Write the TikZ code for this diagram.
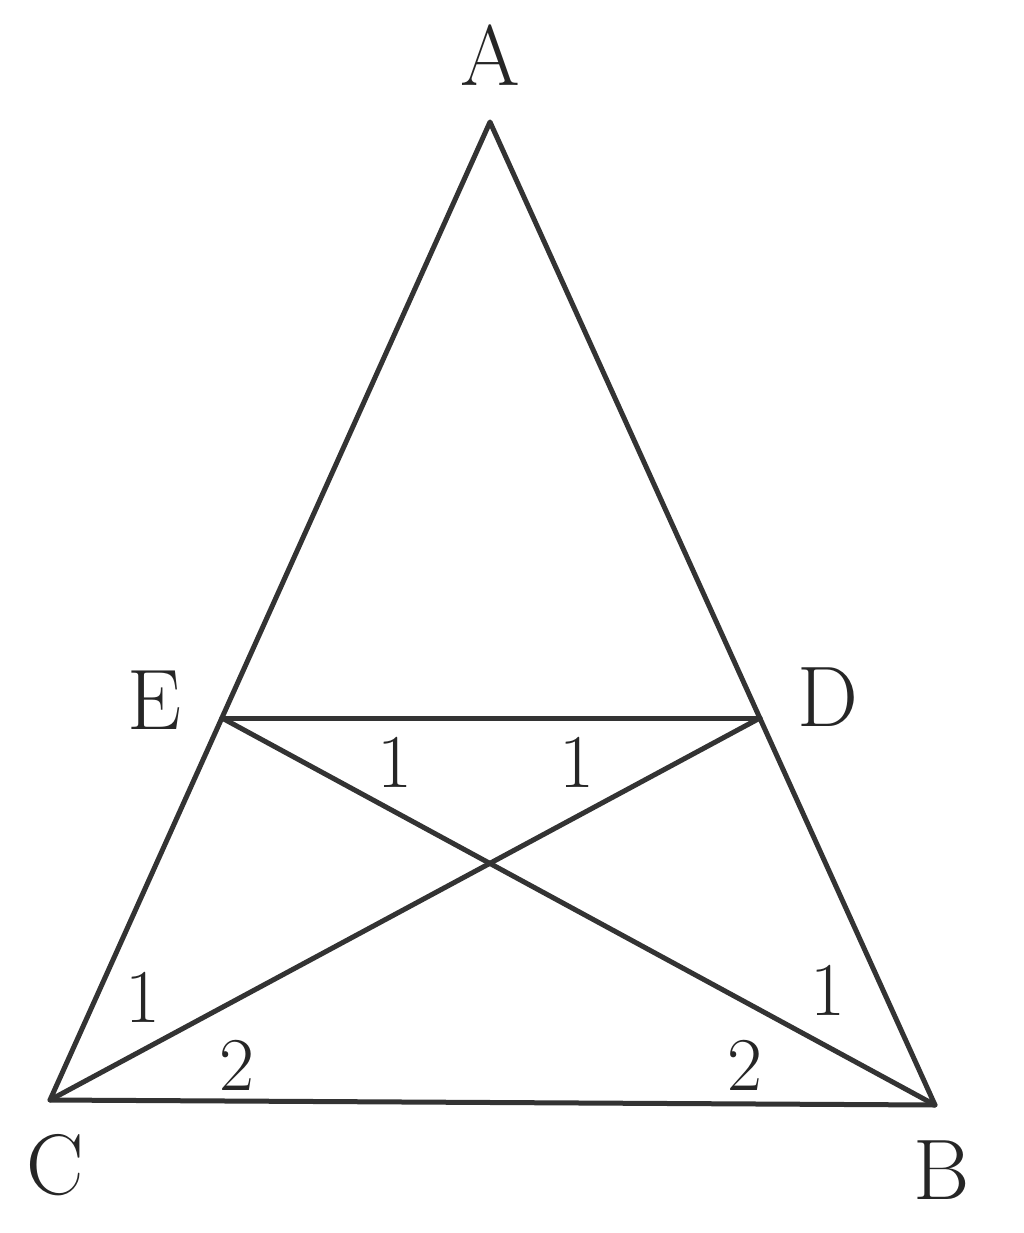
\documentclass[tikz,border=0pt]{standalone}
\begin{document}
\begin{tikzpicture}[x=1pt,y=-1pt,
  seg/.style={line width=5pt,draw=black!80,line join=round,line cap=round},
  lbl/.style={font=\fontsize{86}{86}\selectfont,text=black!85,inner sep=0pt},
  num/.style={font=\fontsize{76}{76}\selectfont,text=black!85,inner sep=0pt}]
\useasboundingbox (0,0) rectangle (1024,1233);
\coordinate (A) at (490,122);
\coordinate (C) at (50,1100);
\coordinate (B) at (935,1105);
\coordinate (E) at (222,718);
\coordinate (D) at (760,718);
\draw[seg] (A) -- (C) -- (B) -- cycle;
\draw[seg] (E) -- (D);
\draw[seg] (E) -- (B);
\draw[seg] (D) -- (C);
\node[lbl] (lA) at (490,55) {A};
\node[lbl] (lE) at (155,700) {E};
\node[lbl] (lD) at (828,697) {D};
\node[lbl] (lC) at (55,1165) {C};
\node[lbl] (lB) at (942,1170) {B};
\node[num] (n1) at (395,762) {1};
\node[num] (n2) at (577,762) {1};
\node[num] (n3) at (143,997) {1};
\node[num] (n4) at (237,1065) {2};
\node[num] (n5) at (828,990) {1};
\node[num] (n6) at (745,1065) {2};
\end{tikzpicture}
\end{document}
